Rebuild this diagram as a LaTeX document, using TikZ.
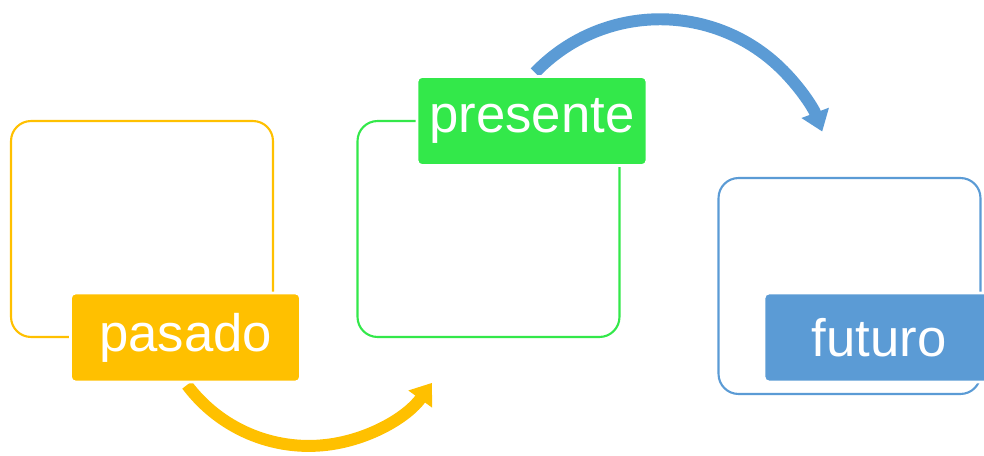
\documentclass[tikz,border=0pt]{standalone}
\usepackage{fontspec}
\setmainfont{Liberation Sans}
\usetikzlibrary{positioning,arrows.meta}
\definecolor{amarillo}{HTML}{FFC000}
\definecolor{verde}{HTML}{33E84A}
\definecolor{azul}{HTML}{5B9BD5}

\begin{document}
\begin{tikzpicture}[x=0.02cm,y=-0.02cm,
  marco/.style={draw=#1,line width=1.2pt,rounded corners=0.4cm,minimum width=5.24cm,minimum height=4.32cm,inner sep=0pt},
  etiqueta/.style={fill=#1,draw=white,line width=1.5pt,rounded corners=0.1cm,minimum width=4.6cm,minimum height=1.78cm,inner sep=0pt,text=white,font=\fontsize{30}{36}\selectfont},
  flecha/.style={draw=#1,line width=6.8pt,-{Triangle[length=0.4cm,width=0.56cm]}}]
  \useasboundingbox (0,0) rectangle (984,456);
  % frames
  \node[marco=amarillo] at(142,229)(mpasado){};
  \node[marco=verde] at(488.5,229)(mpresente){};
  \node[marco=azul] at(849.5,286)(mfuturo){};
  % arrows
  \coordinate (ini1) at (187,385);
  \coordinate (ini2) at (535,72.6);
  \draw[flecha=amarillo] (ini1) arc[start angle=216.8,end angle=324.2,radius=3.04cm];
  \draw[flecha=azul] (ini2) arc[start angle=136.2,end angle=20.6,radius=3.466cm];
  % labels
  \node[etiqueta=amarillo] at(185.5,337.5)(pasado){pasado};
  \node[etiqueta=verde] at(532,121)(presente){presente};
  \node[etiqueta=azul] at(879,337.5)(futuro){futuro};
\end{tikzpicture}
\end{document}
